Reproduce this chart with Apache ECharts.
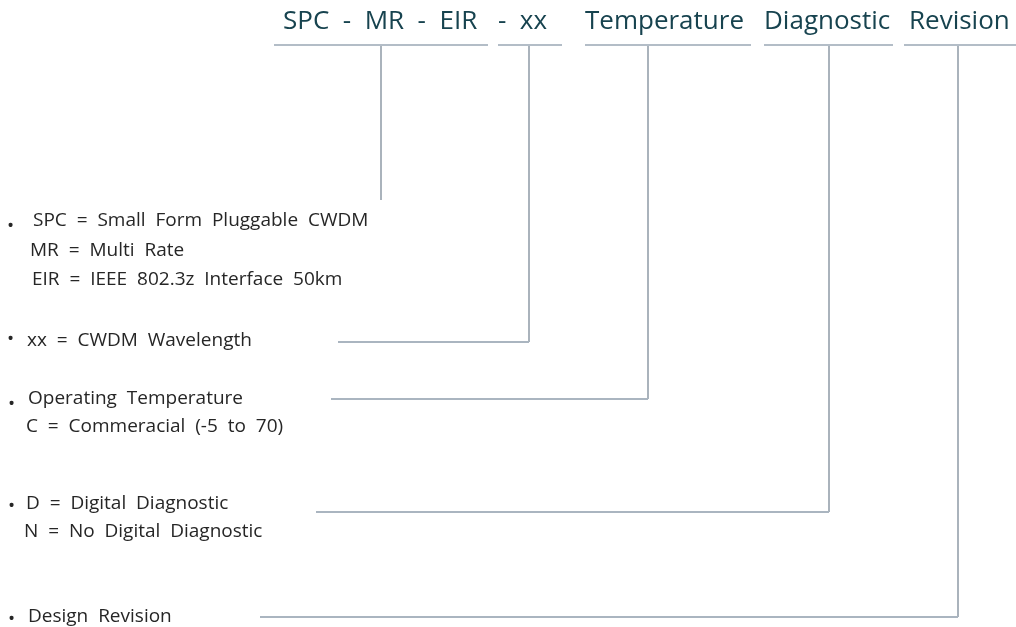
<!DOCTYPE html>
<html>
<head>
<meta charset="utf-8">
<script src="https://cdn.jsdelivr.net/npm/echarts@6/dist/echarts.min.js"></script>
<style>html,body{margin:0;padding:0;background:#fff}#c{width:1016px;height:627px}</style>
</head>
<body>
<div id="c"></div>
<script>
// Part-number header pieces and where they sit (diagram units = px of the 1016x627 canvas)
const titleWords = ['SPC  -  MR  -  EIR', '-  xx', 'Temperature', 'Diagnostic', 'Revision'];
const titleAnchors = [[283, 22], [498, 22], [585, 22], [764, 22], [909, 22]];
// Underline spans under the header (x from, x to) at header rule level
const underlineSpans = [[274, 488], [498, 562], [585, 751], [764, 893], [904, 1016]];
const ruleY = 45;
// Leader paths from header down to each description
const leaderPaths = [
  [[381, 46], [381, 200]],
  [[529, 46], [529, 342], [338, 342]],
  [[648, 46], [648, 399], [331, 399]],
  [[829, 46], [829, 512], [316, 512]],
  [[958, 46], [958, 617], [260, 617]]
];
// Description lines
const notes = [
  'SPC  =  Small  Form  Pluggable  CWDM',
  'MR  =  Multi  Rate',
  'EIR  =  IEEE  802.3z  Interface  50km',
  'xx  =  CWDM  Wavelength',
  'Operating  Temperature',
  'C  =  Commeracial  (-5  to  70)',
  'D  =  Digital  Diagnostic',
  'N  =  No  Digital  Diagnostic',
  'Design  Revision'
];
const noteAnchors = [[33, 221], [30, 251], [32, 280], [27, 341], [28, 399], [26, 427], [26, 504], [24, 532], [28, 617]];
const bulletAnchors = [[7, 227], [7, 340], [8, 405], [8, 507], [8, 620]];

const chart = echarts.init(document.getElementById('c'), null, {renderer: 'canvas'});
const bodyFont = '"Open Sans", "DejaVu Sans", sans-serif';

const series = [];
underlineSpans.forEach(s => {
  series.push({
    type: 'line', data: [[s[0], ruleY], [s[1], ruleY]], symbol: 'none', silent: true,
    lineStyle: {color: '#b3bdc7', width: 2}, animation: false
  });
});
leaderPaths.forEach(p => {
  series.push({
    type: 'line', data: [p[0], p[1]], symbol: 'none', silent: true,
    lineStyle: {color: '#8e9aa6', width: 1.5}, animation: false
  });
  if (p.length > 2) {
    series.push({
      type: 'line', data: [p[1], p[2]], symbol: 'none', silent: true,
      lineStyle: {color: '#aab5c0', width: 2}, animation: false
    });
  }
});
function textSeries(items, anchors, color, size) {
  return {
    type: 'scatter', symbolSize: 0, silent: true, animation: false,
    itemStyle: {opacity: 1},
    data: items.map((w, i) => ({name: w, value: anchors[i]})),
    label: {show: true, position: 'right', distance: 0, formatter: p => p.name,
      color: color, opacity: 1, fontSize: size, fontFamily: bodyFont}
  };
}
series.push(textSeries(titleWords, titleAnchors, '#17434f', 26));
series.push(textSeries(notes, noteAnchors, '#262626', 19));
series.push(textSeries(bulletAnchors.map(() => '•'), bulletAnchors, '#262626', 19));

chart.setOption({
  animation: false,
  grid: {left: 0, right: 0, top: 0, bottom: 0},
  xAxis: {type: 'value', min: 0, max: 1016, show: false},
  yAxis: {type: 'value', min: 0, max: 627, inverse: true, show: false},
  series: series
});
</script>
</body>
</html>
